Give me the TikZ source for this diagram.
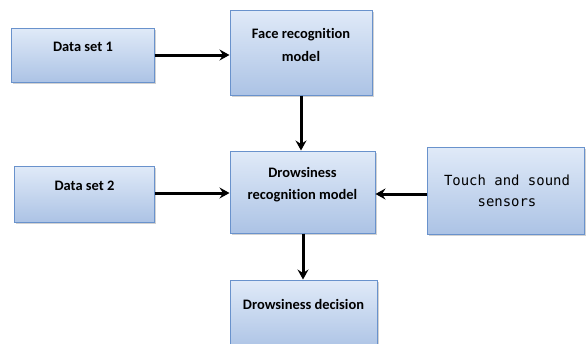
\documentclass[tikz,border=0pt]{standalone}
\usepackage{fontspec}
\setmainfont[Ligatures=NoCommon]{Carlito}
\newfontfamily\monof{DejaVu Sans Mono}
\usetikzlibrary{arrows.meta,shadows,calc}
\definecolor{boxtop}{RGB}{224,234,248}
\definecolor{boxbot}{RGB}{172,195,229}
\definecolor{boxline}{RGB}{105,146,204}
\tikzset{
  blockbox/.style={draw=boxline,line width=1bp,top color=boxtop,bottom color=boxbot,
    drop shadow={shadow xshift=1.5bp,shadow yshift=-1.8bp,opacity=0.35},inner sep=0pt},
  lbl/.style={font=\bfseries\fontsize{14.5}{22.5}\selectfont,align=center,text=black},
  mlbl/.style={font=\monof\fontsize{14}{21}\selectfont,align=center,text=black},
  conn/.style={line width=3bp,-{Stealth[length=10bp,width=11bp,inset=3.5bp]}}
}
\begin{document}
\begin{tikzpicture}[x=1bp,y=-1bp]
\useasboundingbox (0,0) rectangle (586,343);
\path[fill=white] (0,0) rectangle (586,343);
% boxes
\node[blockbox,minimum width=142bp,minimum height=54bp] (d1) at (83,55) {};
\node[blockbox,minimum width=142bp,minimum height=85bp] (f) at (301,52.5) {};
\node[blockbox,minimum width=139bp,minimum height=56bp] (d2) at (84.5,194) {};
\node[blockbox,minimum width=145bp,minimum height=82bp] (r) at (302.5,192) {};
\node[blockbox,minimum width=157bp,minimum height=87bp] (t) at (506,190.5) {};
\node[blockbox,minimum width=147bp,minimum height=70bp] (dd) at (303.5,315) {};
% texts
\node[lbl] (d1t) at (83,47) {Data set 1};
\node[lbl] (ft) at (301,45) {Face recognition\\model};
\node[lbl] (d2t) at (84.5,186) {Data set 2};
\node[lbl] (rt) at (302.5,184.5) {Drowsiness\\recognition model};
\node[mlbl] (tt) at (507,190.5) {Touch and sound\\sensors};
\node[lbl] (ddt) at (303.5,304) {Drowsiness decision};
% connectors
\draw[conn] (d1.east) -- (d1.east -| f.west);
\draw[conn] (f.south -| 301,0) -- (r.north -| 301,0);
\draw[conn] ($(d2.east)+(0,-1)$) -- ($(d2.east -| r.west)+(0,-1)$);
\draw[conn] ($(t.west)+(0,3.5)$) -- ($(t.west -| r.east)+(0,3.5)$);
\draw[conn] (r.south -| 303,0) -- (dd.north -| 303,0);
\end{tikzpicture}
\end{document}
